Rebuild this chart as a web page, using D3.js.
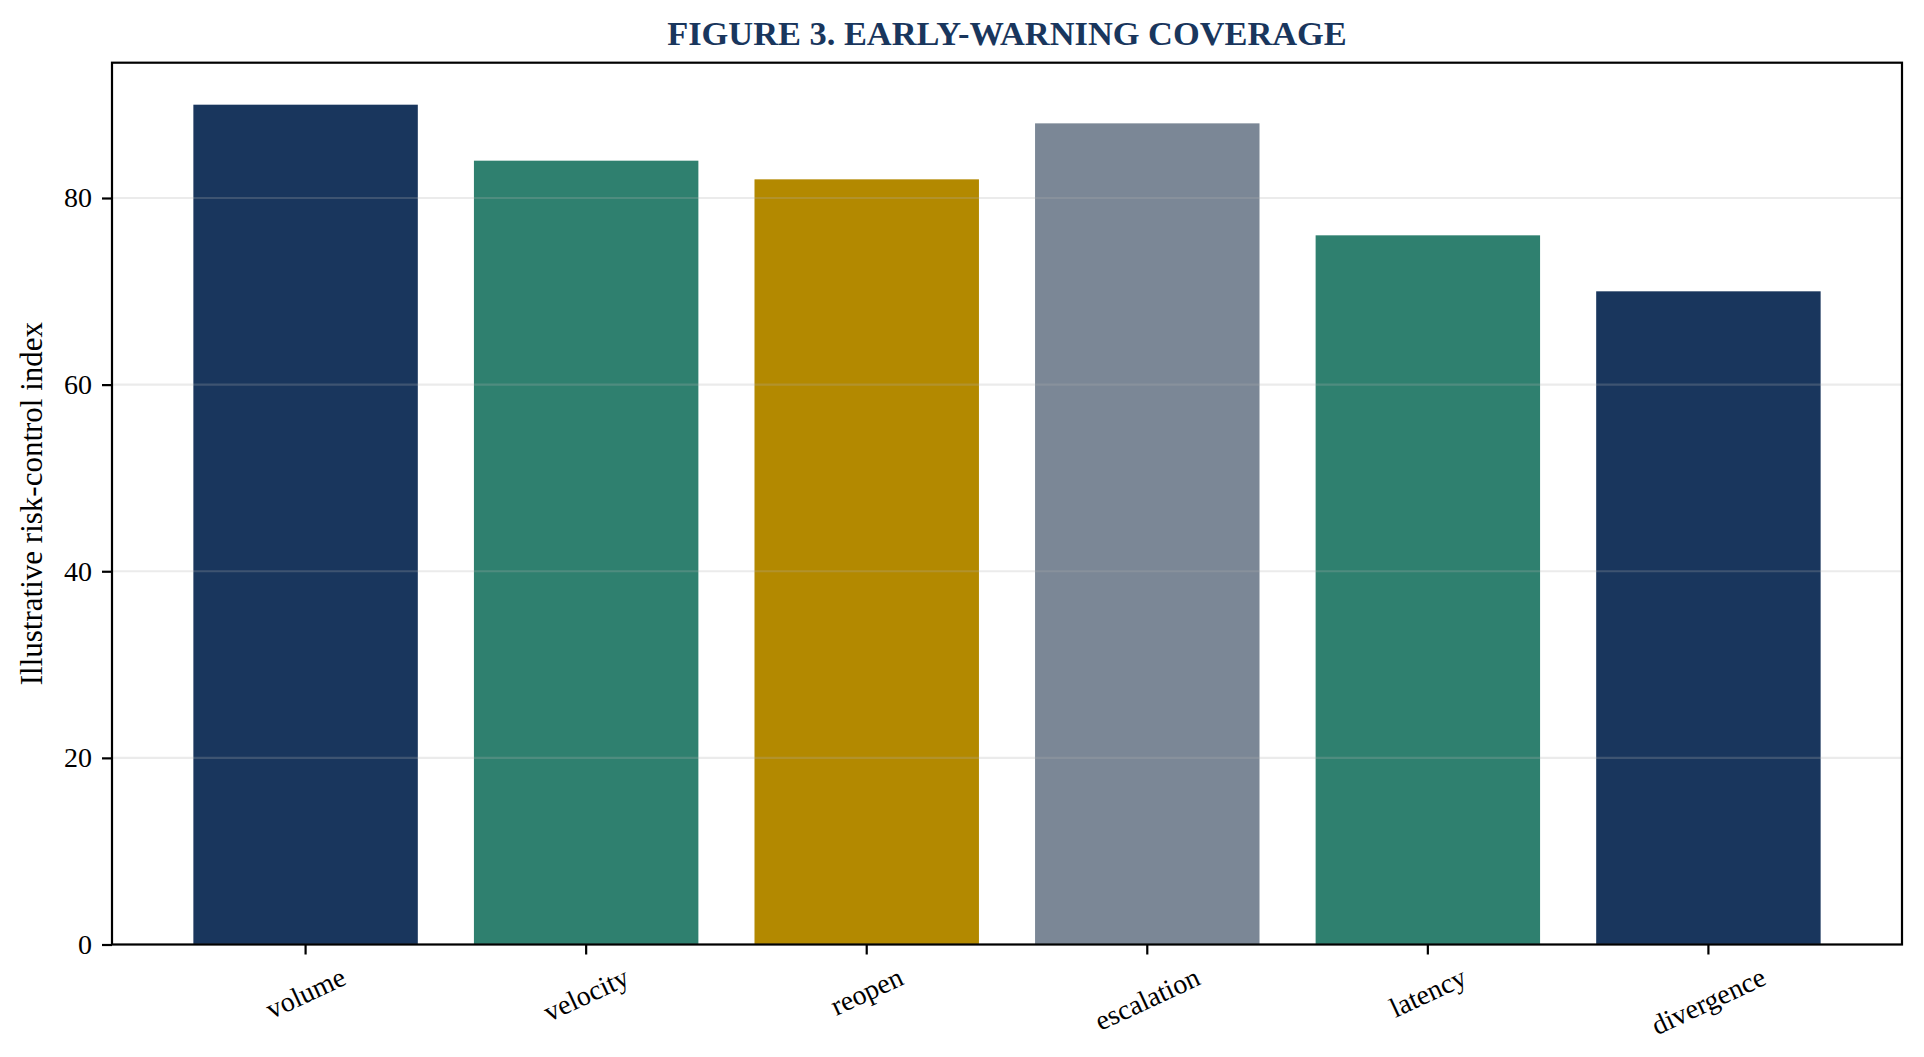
<!DOCTYPE html>
<html>
<head>
<meta charset="utf-8">
<script src="https://cdn.jsdelivr.net/npm/d3@7"></script>
<style>
  body { margin: 0; background: #fff; }
  svg text { font-family: "Liberation Serif", "Times New Roman", serif; }
</style>
</head>
<body>
<div id="chart"></div>
<script>
// data
const categories = ["volume", "velocity", "reopen", "escalation", "latency", "divergence"];
const values = [90, 84, 82, 88, 76, 70];
const barColors = ["#19365d", "#2f806f", "#b38900", "#7b8796", "#2f806f", "#19365d"];
const yTicks = [0, 20, 40, 60, 80];

const width = 1924;
const height = 1057;
const margin = { top: 62.7, right: 22, bottom: 112.5, left: 112 };
const navy = "#19365d";

const svg = d3.select("#chart")
    .append("svg")
    .attr("width", width)
    .attr("height", height);

const x = d3.scaleBand()
    .domain(categories)
    .range([margin.left, width - margin.right])
    .paddingInner(0.2)
    .paddingOuter(0.29);

// matplotlib-style 5% headroom above the tallest bar
const y = d3.scaleLinear()
    .domain([0, d3.max(values) * 1.05])
    .range([height - margin.bottom, margin.top]);

// bars
svg.selectAll("rect.bar")
    .data(categories)
    .enter()
    .append("rect")
    .attr("class", "bar")
    .attr("x", d => x(d))
    .attr("y", (d, i) => y(values[i]))
    .attr("width", x.bandwidth())
    .attr("height", (d, i) => y(0) - y(values[i]))
    .attr("fill", (d, i) => barColors[i]);

// horizontal grid, drawn over the bars like the original
svg.selectAll("line.grid")
    .data(yTicks)
    .enter()
    .append("line")
    .attr("class", "grid")
    .attr("x1", margin.left)
    .attr("x2", width - margin.right)
    .attr("y1", d => y(d))
    .attr("y2", d => y(d))
    .attr("stroke", "#b0b0b0")
    .attr("stroke-opacity", 0.25)
    .attr("stroke-width", 2.2);

// y axis
const yAxis = svg.append("g")
    .attr("transform", `translate(${margin.left},0)`)
    .call(d3.axisLeft(y).tickValues(yTicks).tickSize(10).tickPadding(10).tickFormat(d3.format("d")));
yAxis.select(".domain").remove();
yAxis.selectAll(".tick line").attr("stroke", "#000").attr("stroke-width", 2.2);
yAxis.selectAll(".tick text")
    .attr("font-size", 28)
    .attr("fill", "#000");

// x axis
const xAxis = svg.append("g")
    .attr("transform", `translate(0,${y(0)})`)
    .call(d3.axisBottom(x).tickSize(10).tickFormat(""));
xAxis.select(".domain").remove();
xAxis.selectAll(".tick line").attr("stroke", "#000").attr("stroke-width", 2.2);

// rotated category labels, bbox top kept on one line as matplotlib does
const angle = 25;
const rad = angle * Math.PI / 180;
const labelTop = y(0) + 18;
svg.selectAll("text.xlabel")
    .data(categories)
    .enter()
    .append("text")
    .attr("class", "xlabel")
    .attr("font-size", 28)
    .attr("fill", "#000")
    .attr("text-anchor", "middle")
    .attr("dominant-baseline", "central")
    .text(d => d)
    .each(function(d) {
        const len = this.getComputedTextLength();
        const boxH = len * Math.sin(rad) + 28 * Math.cos(rad);
        const cx = x(d) + x.bandwidth() / 2;
        const cy = labelTop + boxH / 2;
        d3.select(this).attr("transform", `translate(${cx},${cy}) rotate(${-angle})`);
    });

// frame
svg.append("rect")
    .attr("x", margin.left)
    .attr("y", margin.top)
    .attr("width", width - margin.left - margin.right)
    .attr("height", y(0) - margin.top)
    .attr("fill", "none")
    .attr("stroke", "#000")
    .attr("stroke-width", 2.2);

// y label
svg.append("text")
    .attr("transform", `translate(42,${(margin.top + y(0)) / 2}) rotate(-90)`)
    .attr("text-anchor", "middle")
    .attr("font-size", 31)
    .attr("fill", "#000")
    .text("Illustrative risk-control index");

// title
svg.append("text")
    .attr("x", (margin.left + width - margin.right) / 2)
    .attr("y", 45)
    .attr("text-anchor", "middle")
    .attr("font-size", 34.4)
    .attr("font-weight", "bold")
    .attr("fill", navy)
    .text("FIGURE 3. EARLY-WARNING COVERAGE");
</script>
</body>
</html>
